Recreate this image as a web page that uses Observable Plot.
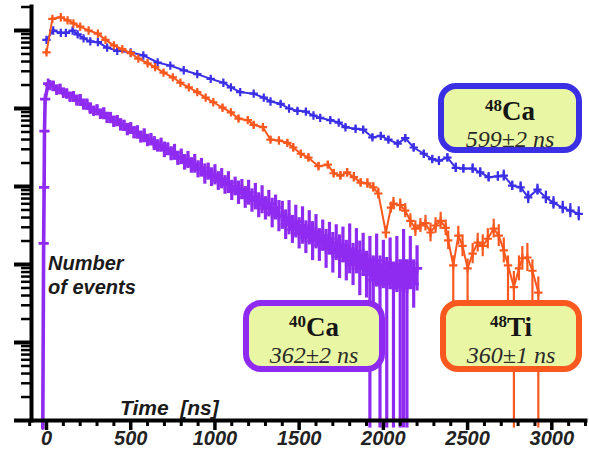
<!DOCTYPE html>
<html><head><meta charset="utf-8">
<script src="https://cdn.jsdelivr.net/npm/d3@7"></script>
<script src="https://cdn.jsdelivr.net/npm/@observablehq/plot@0.6"></script>
<style>
body{margin:0;background:#fff;}
#wrap{position:relative;width:589px;height:453px;overflow:hidden;font-family:"Liberation Sans",Arial,sans-serif;}
#wrap svg{position:absolute;left:0;top:0;z-index:1;}
.lab{position:absolute;z-index:2;font-style:italic;font-weight:bold;color:#1a1a1a;white-space:pre;font-family:"Liberation Sans",Arial,sans-serif;}
.box{position:absolute;z-index:2;box-sizing:border-box;border:6px solid;border-radius:18px;background:#e9f6a4;text-align:center;font-family:"Liberation Serif","Times New Roman",serif;color:#161616;}
.box .n{font-weight:bold;font-size:27px;line-height:25px;display:block;}
.box .n .s{font-size:17px;position:relative;top:-9px;}
.box .v{font-style:italic;font-size:24px;line-height:25px;display:block;color:#2a2a2a;}
</style></head>
<body>
<div id="wrap">
  <div class="lab" style="left:48px;top:251px;font-size:20px;line-height:24px;">Number
of events</div>
  <div class="lab" style="left:120px;top:396px;font-size:21px;line-height:24px;">Time  [ns]</div>
  <div class="box" style="left:438px;top:83px;width:144px;height:70px;border-color:#3b2fe6;padding-top:10px;">
    <span class="n"><span class="s">48</span>Ca</span><span class="v">599±2 ns</span></div>
  <div class="box" style="left:243px;top:300px;width:142px;height:72px;border-color:#8f2bf0;padding-top:9px;">
    <span class="n"><span class="s">40</span>Ca</span><span class="v">362±2 ns</span></div>
  <div class="box" style="left:440px;top:300px;width:142px;height:72px;border-color:#f9591f;padding-top:9px;">
    <span class="n"><span class="s">48</span>Ti</span><span class="v">360±1 ns</span></div>
</div>
<script>
// ---------- data (log10 of counts) ----------
const ca48Time = [0,40,85,115,155,185,220,260,305,360,420,500,575,660,735,815,895,975,1050,1095,
  1150,1230,1290,1330,1390,1440,1490,1540,1585,1625,1685,1735,1775,1835,1880,1935,1985,2030,2085,2130,
  2180,2240,2290,2330,2380,2430,2475,2530,2575,2625,2680,2715,2765,2815,2860,2915,2965,3010,3065,3110,3160];
const ca48Log = [4.88,5.00,4.97,4.97,5.00,4.95,4.90,4.86,4.85,4.78,4.74,4.72,4.68,4.59,4.55,4.49,4.44,4.38,4.33,4.27,
  4.21,4.19,4.14,4.09,4.06,4.00,3.97,3.96,3.91,3.88,3.85,3.82,3.76,3.74,3.73,3.63,3.65,3.60,3.55,3.62,
  3.50,3.42,3.35,3.33,3.37,3.24,3.23,3.23,3.18,3.12,3.13,3.14,3.01,2.99,2.86,2.96,2.86,2.79,2.73,2.69,2.65];
const ca48Err = [0.02,0.02,0.02,0.02,0.02,0.02,0.02,0.02,0.02,0.02,0.02,0.02,0.02,0.02,0.02,0.02,0.02,0.02,0.02,0.02,
  0.02,0.02,0.02,0.02,0.03,0.02,0.03,0.03,0.02,0.03,0.03,0.03,0.03,0.03,0.03,0.04,0.04,0.04,0.04,0.04,
  0.05,0.04,0.05,0.05,0.05,0.06,0.05,0.06,0.06,0.06,0.06,0.07,0.06,0.07,0.08,0.07,0.08,0.08,0.08,0.09,0.09];

const ti48Time = [0,35,85,125,160,200,250,305,350,400,450,500,545,600,645,695,750,795,845,895,
  945,990,1045,1095,1140,1195,1230,1285,1330,1380,1430,1465,1510,1555,1615,1670,1705,1745,1785,1825,
  1865,1905,1940,1970,2015,2045,2060,2100,2130,2160,2190,2220,2250,2280,2310,2340,2370,2385,2415,2445,
  2470,2500,2530,2560,2590,2620,2655,2685,2715,2740,2775,2805,2825,2855,2885,2920];
const ti48Log = [4.72,5.15,5.17,5.13,5.09,5.05,5.00,4.96,4.88,4.81,4.76,4.71,4.64,4.58,4.53,4.46,4.40,4.33,4.27,4.21,
  4.14,4.08,4.01,3.95,3.87,3.85,3.79,3.76,3.60,3.59,3.56,3.50,3.42,3.37,3.26,3.28,3.17,3.14,3.18,3.12,
  3.05,3.04,2.99,2.91,2.41,2.73,2.78,2.76,2.69,2.56,2.46,2.50,2.53,2.41,2.50,2.56,2.47,2.31,1.99,2.37,
  2.24,1.95,2.14,2.28,2.24,2.33,2.46,2.37,2.18,1.99,1.71,1.95,2.08,2.09,1.92,1.64];
const ti48Err = [0.03,0.02,0.02,0.02,0.02,0.02,0.02,0.02,0.02,0.02,0.02,0.03,0.02,0.03,0.02,0.03,0.03,0.02,0.03,0.03,
  0.03,0.03,0.04,0.03,0.04,0.03,0.04,0.04,0.04,0.04,0.04,0.05,0.04,0.05,0.05,0.04,0.05,0.05,0.05,0.06,
  0.05,0.06,0.06,0.07,0.08,0.07,0.08,0.08,0.09,0.09,0.10,0.09,0.10,0.12,0.10,0.11,0.10,0.12,0.12,0.12,
  0.14,0.12,0.13,0.12,0.14,0.13,0.12,0.14,0.16,0.12,0.20,0.16,0.15,0.18,0.14,0.20];
const ti48ZeroTimes = [2775,2920];
const ti48LongLowTimes = [2415,2500,2740,2885];

const ca40Time = [-22,-17,-14,-12,-8,10,
  20,40,60,80,100,120,140,160,180,200,220,240,260,280,300,320,340,360,380,400,
  420,440,460,480,500,520,540,560,580,600,620,640,660,680,700,720,740,760,780,800,
  820,840,860,880,900,920,940,960,980,1000,1020,1040,1060,1080,1100,1120,1140,1160,1180,1200,
  1220,1240,1260,1280,1300,1320,1340,1360,1380,1400,1420,1440,1460,1480,1500,1520,1540,1560,1580,1600,
  1620,1640,1660,1680,1700,1720,1740,1760,1780,1800,1820,1840,1860,1880,1900,1920,1940,1960,1980,2000,
  2020,2040,2060,2080,2100,2120,2140,2160,2180,2200];
const ca40Log = [-0.1,2.27,2.99,3.71,4.12,4.32,
  4.30,4.29,4.24,4.25,4.20,4.19,4.15,4.16,4.10,4.11,4.05,4.06,4.00,3.97,3.98,3.93,3.94,3.88,3.89,3.83,
  3.84,3.79,3.78,3.73,3.75,3.69,3.70,3.63,3.65,3.59,3.60,3.55,3.52,3.53,3.47,3.48,3.42,3.44,3.36,3.38,
  3.31,3.34,3.27,3.29,3.22,3.24,3.16,3.19,3.12,3.15,3.07,3.10,3.02,3.05,2.95,3.00,2.92,2.96,2.86,2.92,
  2.82,2.87,2.76,2.83,2.72,2.78,2.66,2.73,2.62,2.63,2.51,2.60,2.45,2.55,2.40,2.50,2.35,2.47,2.30,2.42,
  2.25,2.37,2.20,2.33,2.15,2.28,2.10,2.25,2.05,2.20,2.00,2.17,1.95,2.13,1.87,2.07,1.80,2.05,1.75,2.00,
  1.75,2.02,1.70,2.00,1.72,2.05,1.70,2.02,1.75,1.95];
const ca40Err = [0,0,0,0,0,0,
  0.05,0.06,0.05,0.06,0.05,0.06,0.06,0.05,0.06,0.07,0.06,0.06,0.07,0.06,0.07,0.06,0.07,0.07,0.06,0.07,
  0.07,0.08,0.07,0.08,0.07,0.08,0.08,0.07,0.09,0.08,0.08,0.09,0.08,0.09,0.10,0.08,0.09,0.10,0.09,0.10,
  0.10,0.11,0.10,0.12,0.11,0.12,0.13,0.11,0.12,0.13,0.12,0.13,0.12,0.14,0.13,0.12,0.15,0.13,0.14,0.16,
  0.15,0.17,0.16,0.18,0.15,0.17,0.19,0.16,0.20,0.18,0.19,0.22,0.18,0.21,0.20,0.24,0.21,0.22,0.25,0.22,
  0.21,0.20,0.25,0.21,0.26,0.23,0.28,0.23,0.26,0.32,0.27,0.29,0.35,0.27,0.30,0.29,0.31,0.34,0.36,0.31,
  0.34,0.32,0.31,0.36,0.33,0.40,0.35,0.34,0.31,0.29];
const ca40ZeroTimes = [1920,1980,2020,2060,2100,2120,2140];

const zeroCountFloor = 0.8;   // where empty bins are drawn (just below the axis)
const longLowDepth = 0.8;     // lower error reach (log10) of the few very uncertain 48Ti bins

// ---------- ticks ----------
const xMajorTicks = [0,500,1000,1500,2000,2500,3000];
const xMinorTicks = [-100,100,200,300,400,600,700,800,900,1100,1200,1300,1400,1600,1700,1800,1900,
  2100,2200,2300,2400,2600,2700,2800,2900,3100,3200];
const yMajorTicks = [1,10,100,1000,10000,100000];
const yMinorTicks = [2,3,4,5,6,7,8,9,20,30,40,50,60,70,80,90,200,300,400,500,600,700,800,900,
  2000,3000,4000,5000,6000,7000,8000,9000,20000,30000,40000,50000,60000,70000,80000,90000,200000];

const colors = {ca48:"#3b2fe6", ti48:"#f9591f", ca40:"#8f2bf0"};

function rows(t, L, err, zeroTimes, longLowTimes) {
  return t.map((x,i) => ({
    t: x,
    y: Math.pow(10, L[i]),
    lo: zeroTimes.includes(x) ? zeroCountFloor
      : Math.pow(10, L[i] - (longLowTimes.includes(x) ? longLowDepth : err[i])),
    hi: Math.pow(10, L[i] + err[i])
  }));
}
const ca48 = rows(ca48Time, ca48Log, ca48Err, [], []);
const ti48 = rows(ti48Time, ti48Log, ti48Err, ti48ZeroTimes, ti48LongLowTimes);
const ca40 = rows(ca40Time, ca40Log, ca40Err, ca40ZeroTimes, []);

function series(data, color, r, lw, ew, mw) {
  return [
    Plot.ruleX(data, {x:"t", y1:"lo", y2:"hi", stroke:color, strokeWidth:ew}),
    Plot.line(data, {x:"t", y:"y", stroke:color, strokeWidth:lw, strokeLinejoin:"round"}),
    Plot.dot(data.filter(d => d.y >= 1), {x:"t", y:"y", symbol:"plus", r, stroke:color, strokeWidth:mw})
  ];
}

const plot = Plot.plot({
  width: 589, height: 453,
  marginLeft: 31, marginRight: 4, marginTop: 6, marginBottom: 33,
  x: {domain:[0,3000], range:[46,551.3]},
  y: {type:"log", domain:[1,1e5], range:[420,30]},
  style: {background:"transparent", color:"#111"},
  marks: [
    ...series(ca40, colors.ca40, 3.4, 3.6, 3.2, 2.8),
    ...series(ca48, colors.ca48, 2.8, 2, 2.2, 2.2),
    ...series(ti48, colors.ti48, 2.8, 2, 2.2, 2.2),
    Plot.frame({anchor:"left", stroke:"#000", strokeWidth:4}),
    Plot.frame({anchor:"bottom", stroke:"#000", strokeWidth:4}),
    Plot.axisY(yMajorTicks, {tickSize:17, strokeWidth:4, stroke:"#000", fill:"none", label:null}),
    Plot.axisY(yMinorTicks, {tickSize:10, strokeWidth:2.5, stroke:"#000", fill:"none", label:null}),
    Plot.axisX(xMinorTicks, {tickSize:6, strokeWidth:3, stroke:"#000", fill:"none", label:null}),
    Plot.axisX(xMajorTicks, {tickSize:10, strokeWidth:3.5, stroke:"#000", fill:"#222", tickPadding:0,
      tickFormat: d => String(d), fontSize:20, fontWeight:"bold", fontStyle:"italic",
      fontFamily:"Liberation Sans, Arial, sans-serif", label:null})
  ]
});
document.getElementById("wrap").prepend(plot);
</script>
</body></html>
